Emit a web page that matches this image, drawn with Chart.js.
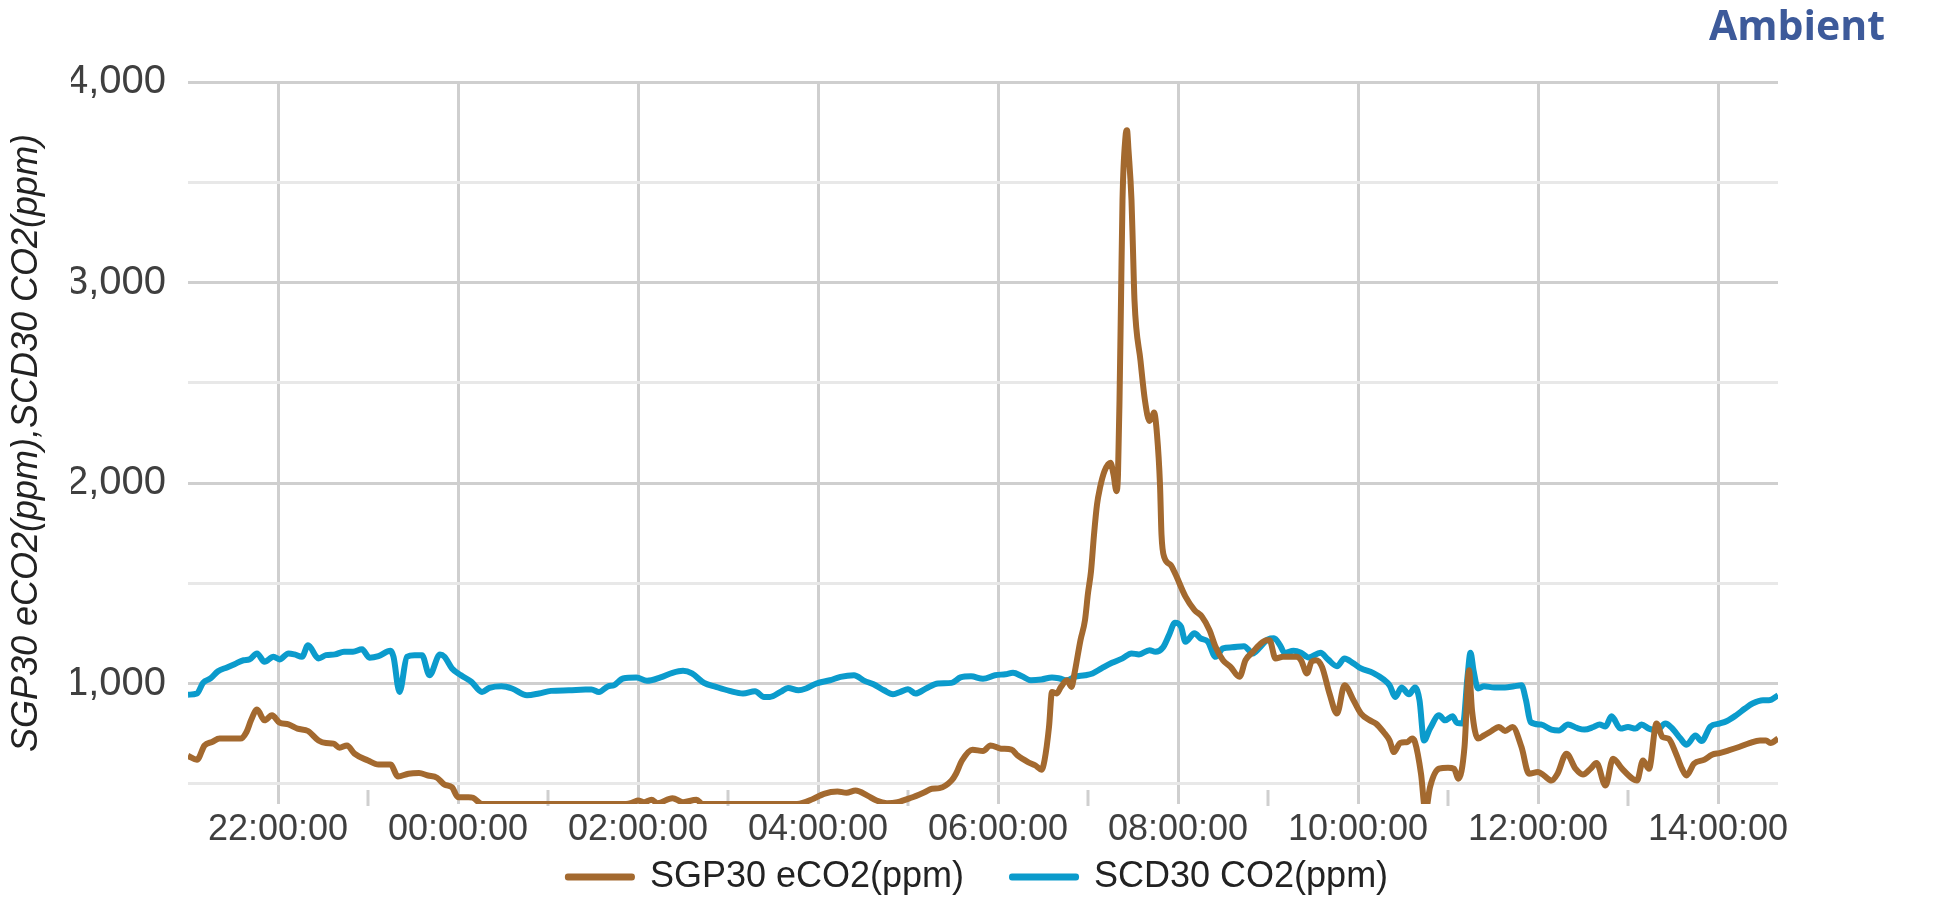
<!DOCTYPE html>
<html>
<head>
<meta charset="utf-8">
<title>Ambient</title>
<script src="https://cdn.jsdelivr.net/npm/chart.js@4.4.1/dist/chart.umd.min.js"></script>
<style>
  html, body { margin: 0; padding: 0; background: #fff; }
  canvas { display: block; }
</style>
</head>
<body>
<canvas id="ambientChart" width="1942" height="900"></canvas>
<script>
// SGP30 eCO2 readings (time of day, ppm)
const sgpTimes = ['21:00','21:06','21:11','21:16','21:21','21:27','21:35','21:39','21:42','21:46','21:51','21:56',
  '22:01','22:07','22:13','22:20','22:27','22:32','22:37','22:41','22:46','22:51','23:00','23:07','23:15','23:20',
  '23:27','23:34','23:40','23:46','23:51','23:56','00:00','00:07','00:10','00:16','01:52','01:57','02:00','02:04',
  '02:09','02:13','02:23','02:30','02:39','02:43','03:46','03:57','04:04','04:13','04:19','04:25','04:33','04:39',
  '04:46','04:53','05:02','05:11','05:16','05:21','05:29','05:32','05:36','05:43','05:50','05:55','06:02','06:09',
  '06:13','06:20','06:25','06:29','06:31','06:34','06:36','06:39','06:42','06:46','06:49','06:51','06:55','06:58',
  '07:00','07:02','07:04','07:06','07:08','07:11','07:15','07:17','07:19','07:20','07:21','07:22','07:23','07:25',
  '07:26','07:27','07:29','07:30','07:31','07:35','07:38','07:41','07:43','07:44','07:46','07:48','07:49','07:51',
  '07:55','07:58','08:05','08:11','08:16','08:21','08:25','08:30','08:35','08:41','08:45','08:50','08:54','08:59',
  '09:01','09:05','09:10','09:14','09:19','09:22','09:26','09:29','09:32','09:36','09:41','09:46','09:51','09:57',
  '10:02','10:08','10:12','10:17','10:21','10:24','10:28','10:33','10:36','10:38','10:42','10:45','10:48','10:54',
  '11:00','11:04','11:07','11:11','11:14','11:16','11:20','11:24','11:29','11:34','11:38','11:43','11:49','11:54',
  '12:00','12:04','12:09','12:13','12:19','12:25','12:30','12:35','12:39','12:45','12:50','12:56','13:03','13:06',
  '13:10','13:14','13:19','13:23','13:27','13:32','13:36','13:39','13:44','13:51','13:56','14:01','14:07','14:14',
  '14:21','14:28','14:32','14:35','14:40'];
const sgpValues = [640,621,692,709,726,726,726,759,817,871,817,842,
  806,797,776,764,717,704,701,681,692,651,617,597,597,537,
  551,554,542,531,497,484,434,434,431,400,400,409,417,409,
  421,404,429,409,421,400,400,426,451,462,456,467,442,417,
  404,409,431,459,476,479,517,551,617,671,664,692,676,671,
  642,609,592,571,617,784,959,951,984,1017,984,1051,1217,1317,
  1451,1560,1743,1893,1977,2060,2102,2043,1960,2043,2410,2910,3410,3727,
  3760,3660,3410,3160,2910,2610,2410,2310,2335,2352,2243,1993,1743,1627,
  1593,1551,1434,1367,1334,1267,1184,1117,1084,1034,1117,1159,1192,1217,
  1217,1126,1134,1134,1134,1117,1051,1109,1117,1084,951,851,992,917,
  851,817,801,759,717,659,704,709,726,709,551,360,484,576,
  581,576,526,684,1067,867,726,742,764,784,764,784,684,551,
  559,542,517,551,651,576,547,576,604,492,626,576,526,517,
  617,576,801,734,726,651,576,542,601,621,646,654,667,684,
  704,717,717,704,726];

// SCD30 CO2 readings (time of day, ppm)
const scdTimes = ['21:00','21:06','21:10','21:15','21:20','21:26','21:31','21:37','21:41','21:46','21:51','21:57',
  '22:01','22:07','22:11','22:16','22:20','22:27','22:32','22:38','22:44','22:50','22:56','23:01','23:07','23:15',
  '23:17','23:21','23:26','23:31','23:36','23:41','23:48','23:51','23:56','00:02','00:09','00:16','00:21','00:29',
  '00:36','00:46','00:54','01:02','01:14','01:25','01:29','01:34','01:40','01:44','01:50','01:59','02:06','02:15',
  '02:23','02:30','02:36','02:44','02:52','03:01','03:10','03:18','03:24','03:28','03:35','03:40','03:47','03:52',
  '03:59','04:08','04:15','04:24','04:31','04:37','04:44','04:50','04:55','05:00','05:05','05:12','05:20','05:29',
  '05:35','05:42','05:50','05:58','06:05','06:10','06:16','06:22','06:29','06:36','06:41','06:46','06:51','06:58',
  '07:03','07:09','07:16','07:23','07:29','07:34','07:41','07:45','07:50','07:54','07:58','08:02','08:05','08:11',
  '08:15','08:20','08:25','08:30','08:36','08:44','08:50','08:54','09:00','09:04','09:08','09:11','09:17','09:22',
  '09:27','09:35','09:40','09:46','09:51','09:57','10:02','10:10','10:17','10:21','10:25','10:29','10:34','10:38',
  '10:41','10:44','10:48','10:54','10:58','11:03','11:06','11:10','11:13','11:15','11:17','11:20','11:24','11:31',
  '11:38','11:44','11:49','11:52','11:55','12:02','12:09','12:14','12:20','12:26','12:31','12:37','12:41','12:45',
  '12:49','12:55','13:00','13:05','13:09','13:14','13:19','13:25','13:29','13:35','13:39','13:45','13:49','13:55',
  '14:01','14:06','14:12','14:18','14:23','14:30','14:34','14:40'];
const scdValues = [945,951,1004,1026,1062,1081,1097,1117,1121,1151,1109,1134,
  1121,1151,1146,1134,1192,1126,1142,1146,1159,1159,1171,1129,1137,1164,
  1134,959,1134,1142,1142,1042,1146,1134,1076,1042,1009,959,979,987,
  976,942,951,964,967,971,971,959,987,992,1026,1031,1014,1031,
  1054,1064,1051,1004,984,964,951,962,934,934,959,979,967,976,
  1001,1017,1034,1042,1014,997,967,947,959,972,951,976,1001,1004,
  1031,1037,1024,1042,1047,1054,1037,1017,1021,1031,1026,1017,1034,1042,
  1051,1076,1104,1126,1151,1146,1167,1159,1181,1242,1304,1284,1209,1251,
  1226,1209,1134,1176,1181,1187,1151,1176,1221,1226,1192,1154,1164,1154,
  1131,1154,1121,1087,1126,1101,1076,1054,1021,992,934,981,947,981,
  917,717,776,842,817,837,804,801,1034,1154,1067,976,987,981,
  981,987,992,917,809,796,771,767,796,779,771,784,796,787,
  837,776,784,776,796,776,767,801,781,726,696,742,714,787,
  801,814,842,876,901,917,917,942];

// axis ticks
const xTickTimes = ['22:00','00:00','02:00','04:00','06:00','08:00','10:00','12:00','14:00'];
const minorTickTimes = ['23:00','01:00','03:00','05:00','07:00','09:00','11:00','13:00'];
const yTickValues = [500, 1000, 1500, 2000, 2500, 3000, 3500, 4000];

// minutes from midnight; the evening before counts negative
function toMinutes(t) {
  const [h, m] = t.split(':').map(Number);
  return (h >= 21 ? h - 24 : h) * 60 + m;
}

function toPoints(times, values) {
  return times.map((t, i) => ({ x: toMinutes(t), y: values[i] }));
}

// short tick marks for the odd hours, at the foot of the plot
const minorTicks = {
  id: 'minorTicks',
  beforeDatasetsDraw(chart) {
    const { ctx, chartArea, scales } = chart;
    ctx.save();
    ctx.strokeStyle = '#cfcfcf';
    ctx.lineWidth = 3;
    minorTickTimes.forEach(t => {
      const px = scales.x.getPixelForValue(toMinutes(t));
      ctx.beginPath();
      ctx.moveTo(px, chartArea.bottom - 14);
      ctx.lineTo(px, chartArea.bottom + 2);
      ctx.stroke();
    });
    ctx.restore();
  }
};

// keep the wide gap between legend items but pull the row up under the axis
const legendLift = {
  id: 'legendLift',
  afterLayout(chart) {
    chart.legend.top -= 40;
  }
};

Chart.defaults.font.family = "'Liberation Sans', Arial, sans-serif";

const config = {
  type: 'line',
  data: {
    datasets: [
      {
        label: 'SGP30 eCO2(ppm)',
        data: toPoints(sgpTimes, sgpValues),
        borderColor: '#a3692f',
        backgroundColor: '#a3692f',
        borderWidth: 6,
        pointRadius: 0,
        cubicInterpolationMode: 'monotone',
        borderJoinStyle: 'round'
      },
      {
        label: 'SCD30 CO2(ppm)',
        data: toPoints(scdTimes, scdValues),
        borderColor: '#0b9bcc',
        backgroundColor: '#0b9bcc',
        borderWidth: 6,
        pointRadius: 0,
        cubicInterpolationMode: 'monotone',
        borderJoinStyle: 'round'
      }
    ]
  },
  options: {
    responsive: false,
    animation: false,
    layout: { padding: { left: 71, right: 57, top: 0, bottom: 0 } },
    plugins: {
      title: {
        display: true,
        text: 'Ambient',
        align: 'end',
        color: '#3d5a9a',
        font: { family: "'Open Sans', 'DejaVu Sans', sans-serif", size: 41, weight: 'bold' },
        padding: { top: 4, bottom: 28.8 }
      },
      legend: {
        position: 'bottom',
        maxHeight: 49,
        labels: {
          boxWidth: 64,
          boxHeight: 1,
          padding: 48,
          color: '#222',
          font: { size: 36 }
        }
      },
      tooltip: { enabled: false }
    },
    scales: {
      x: {
        type: 'linear',
        min: -180,
        max: 880,
        afterFit(scale) { scale.height = 47; },
        afterBuildTicks(scale) { scale.ticks = xTickTimes.map(t => ({ value: toMinutes(t) })); },
        border: { display: false },
        grid: { color: '#cfcfcf', lineWidth: 3, drawTicks: false },
        ticks: {
          autoSkip: false,
          maxRotation: 0,
          padding: 4,
          color: '#3f3f3f',
          font: { size: 36 },
          callback: function(value) {
            const h = ((value / 60) % 24 + 24) % 24;
            return String(h).padStart(2, '0') + ':00:00';
          }
        }
      },
      y: {
        min: 400,
        max: 4000,
        afterFit(scale) { scale.width = 117; },
        afterBuildTicks(scale) { scale.ticks = yTickValues.map(v => ({ value: v })); },
        border: { display: false },
        grid: {
          color: ctx => (ctx.tick && ctx.tick.value % 1000 === 0) ? '#cfcfcf' : '#e8e8e8',
          lineWidth: 3,
          drawTicks: false
        },
        ticks: {
          padding: 22,
          color: '#3f3f3f',
          font: { size: 40 },
          callback: v => v % 1000 === 0 ? v.toLocaleString('en-US') : ''
        },
        title: {
          display: true,
          text: 'SGP30 eCO2(ppm),SCD30 CO2(ppm)',
          color: '#222',
          font: { size: 36, style: 'italic' },
          padding: { top: -66, bottom: 0 }
        }
      },
      y2: {
        position: 'right',
        afterFit(scale) { scale.width = 107; },
        border: { display: false },
        grid: { display: false },
        ticks: { display: false }
      }
    }
  },
  plugins: [minorTicks, legendLift]
};

window.onload = function() {
  const ctx = document.getElementById('ambientChart').getContext('2d');
  new Chart(ctx, config);
};
</script>
</body>
</html>
